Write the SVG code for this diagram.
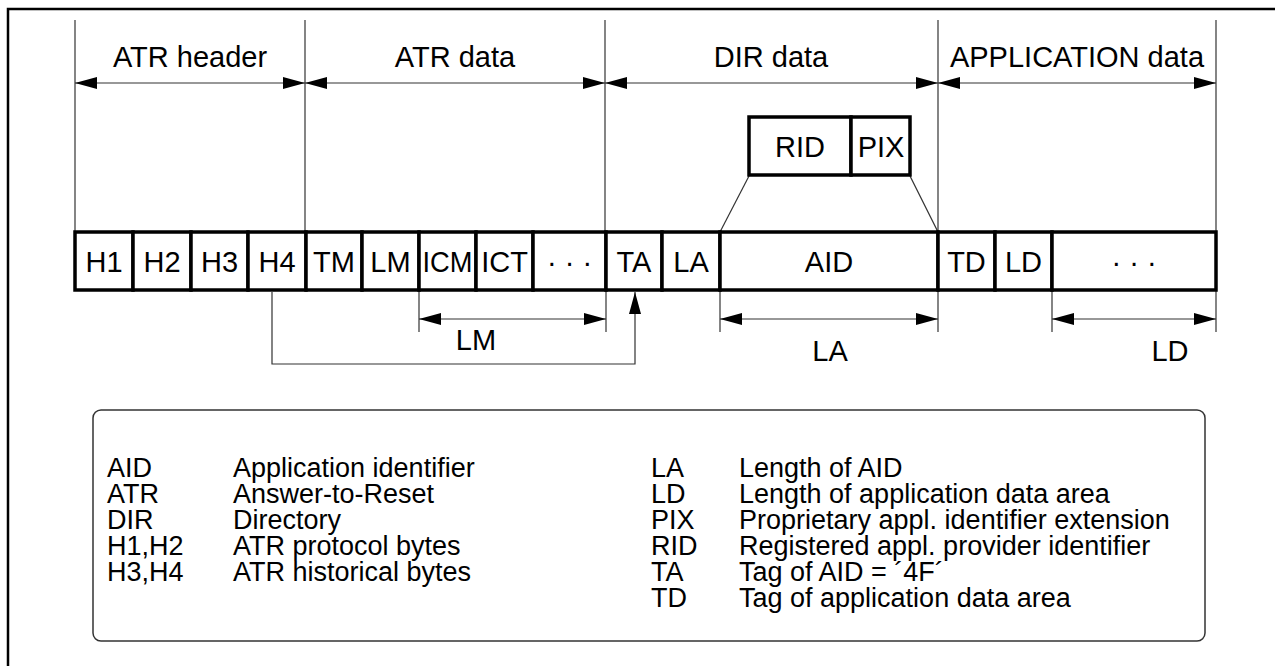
<svg xmlns="http://www.w3.org/2000/svg" width="1275" height="666" viewBox="0 0 1275 666">
<style>
text{font-family:"Liberation Sans",Arial,sans-serif;font-size:29px;fill:#000}
.c{text-anchor:middle}
.lg{font-size:27px}
.cell{fill:#fff;stroke:#000;stroke-width:3.5}
.thin{stroke:#333;stroke-width:1.2;fill:none}
.dim{stroke:#333;stroke-width:1.2;fill:none;marker-start:url(#ah);marker-end:url(#ah)}
</style>
<defs>
<marker id="ah" viewBox="0 0 22 12" refX="22" refY="6" markerWidth="22" markerHeight="12" markerUnits="userSpaceOnUse" orient="auto-start-reverse">
<path d="M0,0 L22,6 L0,12 Z" fill="#000"/>
</marker>
</defs>
<rect width="1275" height="666" fill="#fff"/>
<path d="M8,666 V9 H1275" fill="none" stroke="#000" stroke-width="2.5"/>

<g id="connectors">
<line class="thin" x1="75" y1="20" x2="75" y2="232"/>
<line class="thin" x1="305" y1="20" x2="305" y2="232"/>
<line class="thin" x1="605" y1="20" x2="605" y2="232"/>
<line class="thin" x1="938" y1="20" x2="938" y2="232"/>
<line class="thin" x1="1216" y1="20" x2="1216" y2="232"/>
<line class="dim" x1="75" y1="83" x2="305" y2="83"/>
<line class="dim" x1="305" y1="83" x2="605" y2="83"/>
<line class="dim" x1="605" y1="83" x2="938" y2="83"/>
<line class="dim" x1="938" y1="83" x2="1216" y2="83"/>
<line class="thin" x1="749" y1="176" x2="720" y2="232"/>
<line class="thin" x1="910" y1="176" x2="938" y2="232"/>
<line class="thin" x1="419" y1="290" x2="419" y2="332"/>
<line class="thin" x1="606" y1="290" x2="606" y2="332"/>
<line class="dim" x1="419" y1="319" x2="606" y2="319"/>
<line class="thin" x1="720" y1="290" x2="720" y2="332"/>
<line class="thin" x1="938" y1="290" x2="938" y2="332"/>
<line class="dim" x1="720" y1="319" x2="938" y2="319"/>
<line class="thin" x1="1052" y1="290" x2="1052" y2="332"/>
<line class="thin" x1="1216" y1="290" x2="1216" y2="332"/>
<line class="dim" x1="1052" y1="319" x2="1216" y2="319"/>
<path class="thin" d="M272,292 V364 H635 V292" marker-end="url(#ah)"/>
</g>

<g id="labels-top">
<text class="c" x="190" y="67">ATR header</text>
<text class="c" x="455" y="67">ATR data</text>
<text class="c" x="771" y="67">DIR data</text>
<text class="c" x="1077" y="67">APPLICATION data</text>
</g>

<g id="rid-pix">
<rect class="cell" x="749" y="117" width="102" height="58"/>
<rect class="cell" x="851" y="117" width="59" height="58"/>
<text class="c" x="800" y="157">RID</text>
<text class="c" x="881" y="157">PIX</text>
</g>

<g id="bytes">
<rect class="cell" x="75" y="232" width="58" height="58"/><text class="c" x="104" y="272">H1</text>
<rect class="cell" x="133" y="232" width="58" height="58"/><text class="c" x="162" y="272">H2</text>
<rect class="cell" x="191" y="232" width="57" height="58"/><text class="c" x="219.5" y="272">H3</text>
<rect class="cell" x="248" y="232" width="58" height="58"/><text class="c" x="277" y="272">H4</text>
<rect class="cell" x="306" y="232" width="56" height="58"/><text class="c" x="334" y="272">TM</text>
<rect class="cell" x="362" y="232" width="57" height="58"/><text class="c" x="390.5" y="272">LM</text>
<rect class="cell" x="419" y="232" width="57" height="58"/><text class="c" x="447.5" y="272" textLength="50" lengthAdjust="spacingAndGlyphs">ICM</text>
<rect class="cell" x="476" y="232" width="57" height="58"/><text class="c" x="504.5" y="272">ICT</text>
<rect class="cell" x="533" y="232" width="73" height="58"/><text class="c" x="569.5" y="272">· · ·</text>
<rect class="cell" x="606" y="232" width="56" height="58"/><text class="c" x="634" y="272">TA</text>
<rect class="cell" x="662" y="232" width="58" height="58"/><text class="c" x="691" y="272">LA</text>
<rect class="cell" x="720" y="232" width="218" height="58"/><text class="c" x="829" y="272">AID</text>
<rect class="cell" x="938" y="232" width="57" height="58"/><text class="c" x="966.5" y="272">TD</text>
<rect class="cell" x="995" y="232" width="57" height="58"/><text class="c" x="1023.5" y="272">LD</text>
<rect class="cell" x="1052" y="232" width="164" height="58"/><text class="c" x="1134" y="272">· · ·</text>
</g>

<g id="labels-bottom">
<text class="c" x="476" y="350">LM</text>
<text class="c" x="830" y="361">LA</text>
<text class="c" x="1170" y="361">LD</text>
</g>

<g id="legend">
<rect x="93" y="410" width="1112" height="231" rx="8" fill="#fff" stroke="#333" stroke-width="1.5"/>
<text class="lg" x="107" y="477"><tspan x="107" y="477">AID</tspan><tspan x="107" y="503">ATR</tspan><tspan x="107" y="529">DIR</tspan><tspan x="107" y="555">H1,H2</tspan><tspan x="107" y="581">H3,H4</tspan></text>
<text class="lg" x="233" y="477"><tspan x="233" y="477">Application identifier</tspan><tspan x="233" y="503">Answer-to-Reset</tspan><tspan x="233" y="529">Directory</tspan><tspan x="233" y="555">ATR protocol bytes</tspan><tspan x="233" y="581">ATR historical bytes</tspan></text>
<text class="lg" x="651" y="477"><tspan x="651" y="477">LA</tspan><tspan x="651" y="503">LD</tspan><tspan x="651" y="529">PIX</tspan><tspan x="651" y="555">RID</tspan><tspan x="651" y="581">TA</tspan><tspan x="651" y="607">TD</tspan></text>
<text class="lg" x="739" y="477"><tspan x="739" y="477">Length of AID</tspan><tspan x="739" y="503">Length of application  data area</tspan><tspan x="739" y="529">Proprietary appl. identifier extension</tspan><tspan x="739" y="555">Registered appl. provider identifier</tspan><tspan x="739" y="581">Tag of AID = ´4F´</tspan><tspan x="739" y="607">Tag of application data area</tspan></text>
</g>
</svg>
